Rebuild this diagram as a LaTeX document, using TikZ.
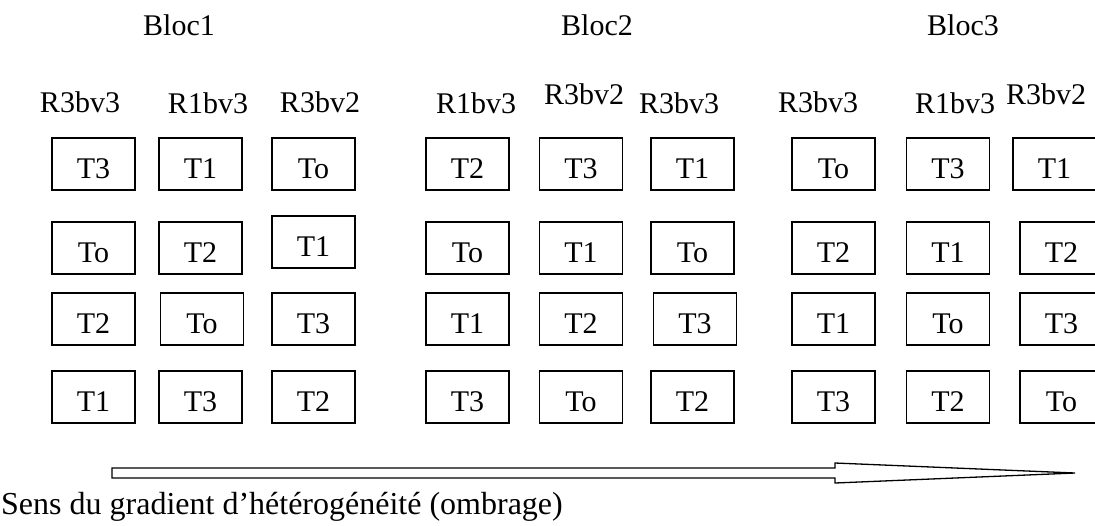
\documentclass[tikz,border=0pt]{standalone}
\usepackage{fontspec}
\setmainfont{Liberation Serif}
\usetikzlibrary{calc}
\begin{document}
\begin{tikzpicture}[x=1pt,y=-1pt,
  plot/.style={draw, line width=1.5pt, minimum width=83pt, minimum height=52pt,
    inner sep=0pt, text height=28pt, text depth=0pt, font=\fontsize{30}{36}\selectfont},
  lbl/.style={anchor=base, inner sep=0pt, font=\fontsize{30}{36}\selectfont}]
\clip (0,0) rectangle (1095,525);

% block titles
\node[lbl] (bloc1) at (179,35) {Bloc1};
\node[lbl] (bloc2) at (597,35) {Bloc2};
\node[lbl] (bloc3) at (963,35) {Bloc3};

% column headers
\node[lbl] (h11) at (80,112)   {R3bv3};
\node[lbl] (h12) at (208,113)  {R1bv3};
\node[lbl] (h13) at (320,112)  {R3bv2};
\node[lbl] (h21) at (476,113)  {R1bv3};
\node[lbl] (h22) at (584,104)  {R3bv2};
\node[lbl] (h23) at (679,113)  {R3bv3};
\node[lbl] (h31) at (818,112)  {R3bv3};
\node[lbl] (h32) at (955,113)  {R1bv3};
\node[lbl] (h33) at (1046,104) {R3bv2};

% block 1
\node[plot] (a11) at (93.5,164) {T3};
\node[plot] (a12) at (200.5,164) {T1};
\node[plot] (a13) at (313.5,164) {To};
\node[plot] (a21) at (93.5,248) {To};
\node[plot] (a22) at (200.5,248) {T2};
\node[plot] (a23) at (313.5,242) {T1};
\node[plot] (a31) at (93.5,319) {T2};
\node[plot] (a32) at (202,319) {To};
\node[plot] (a33) at (313.5,319) {T3};
\node[plot] (a41) at (93.5,397) {T1};
\node[plot] (a42) at (200.5,397) {T3};
\node[plot] (a43) at (313.5,397) {T2};

% block 2
\node[plot] (b11) at (467.5,164) {T2};
\node[plot] (b12) at (581,164) {T3};
\node[plot] (b13) at (692.5,164) {T1};
\node[plot] (b21) at (467.5,248) {To};
\node[plot] (b22) at (581,248) {T1};
\node[plot] (b23) at (692.5,248) {To};
\node[plot] (b31) at (467.5,319) {T1};
\node[plot] (b32) at (581,319) {T2};
\node[plot] (b33) at (695,319) {T3};
\node[plot] (b41) at (467.5,397) {T3};
\node[plot] (b42) at (581,397) {To};
\node[plot] (b43) at (692.5,397) {T2};

% block 3
\node[plot] (c11) at (833.5,164) {To};
\node[plot] (c12) at (948,164) {T3};
\node[plot] (c13) at (1054.5,164) {T1};
\node[plot] (c21) at (833.5,248) {T2};
\node[plot] (c22) at (948,248) {T1};
\node[plot] (c23) at (1061.5,248) {T2};
\node[plot] (c31) at (833.5,319) {T1};
\node[plot] (c32) at (948,319) {To};
\node[plot] (c33) at (1061.5,319) {T3};
\node[plot] (c41) at (833.5,397) {T3};
\node[plot] (c42) at (948,397) {T2};
\node[plot] (c43) at (1061.5,397) {To};

% hollow arrow showing the gradient direction
\coordinate (tail) at (112,473);
\coordinate (tip) at (1075,473);
\draw[line width=1.3pt, line join=miter]
  ($(tail)+(0,-5)$) -- (835,468) -- (835,463) -- (tip) -- (835,483) -- (835,478)
  -- ($(tail)+(0,5)$) -- cycle;

\node[anchor=base west, inner sep=0pt, font=\fontsize{32}{38}\selectfont] (caption) at (1,514)
  {Sens du gradient d’hétérogénéité (ombrage)};
\end{tikzpicture}
\end{document}
